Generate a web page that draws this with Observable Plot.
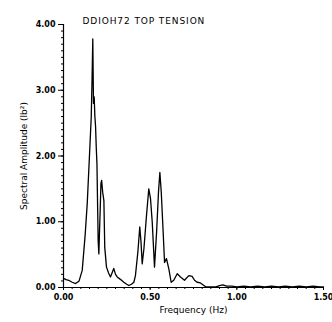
<!DOCTYPE html>
<html>
<head>
<meta charset="utf-8">
<script src="https://cdn.jsdelivr.net/npm/d3@7"></script>
<script src="https://cdn.jsdelivr.net/npm/@observablehq/plot@0.6"></script>
<style>
  html, body { margin: 0; padding: 0; background: #fff; }
  svg { font-family: "DejaVu Sans", sans-serif; }
</style>
</head>
<body>
<div id="chart"></div>
<script>
const title = "DDIOH72 TOP TENSION";
const xLabel = "Frequency (Hz)";
const yLabel = "Spectral Amplitude (lb²)";
const xTicks = [0, 0.5, 1.0, 1.5];
const yTicks = [0, 1, 2, 3, 4];

const freq = [
  0.000, 0.015, 0.030, 0.050, 0.070, 0.090, 0.108, 0.125, 0.137, 0.152,
  0.160, 0.165, 0.169, 0.173, 0.177, 0.181, 0.185, 0.189, 0.193, 0.197,
  0.200, 0.204, 0.208, 0.212, 0.216, 0.220, 0.226, 0.233, 0.238, 0.248,
  0.260, 0.271, 0.280, 0.290, 0.300, 0.310, 0.330, 0.348, 0.365, 0.377,
  0.392, 0.406, 0.415, 0.429, 0.440, 0.447, 0.454, 0.464, 0.479, 0.492,
  0.502, 0.512, 0.525, 0.537, 0.548, 0.556, 0.564, 0.575, 0.583, 0.594,
  0.608, 0.621, 0.636, 0.656, 0.675, 0.698, 0.723, 0.742, 0.756, 0.771,
  0.790, 0.810, 0.820, 0.850, 0.880, 0.900, 0.920, 0.940, 0.970, 1.000,
  1.040, 1.080, 1.120, 1.160, 1.200, 1.240, 1.280, 1.320, 1.360, 1.400,
  1.440, 1.480, 1.500
];
const amp = [
  0.14, 0.12, 0.11, 0.08, 0.06, 0.10, 0.26, 0.80, 1.28, 2.13,
  2.59, 3.20, 3.78, 2.80, 2.90, 2.60, 2.45, 2.13, 1.88, 1.20,
  0.71, 0.51, 0.87, 1.20, 1.58, 1.63, 1.45, 1.32, 0.61, 0.31,
  0.22, 0.16, 0.22, 0.29, 0.20, 0.16, 0.12, 0.08, 0.05, 0.03,
  0.05, 0.08, 0.18, 0.54, 0.92, 0.70, 0.36, 0.59, 1.10, 1.50,
  1.35, 0.99, 0.31, 0.84, 1.45, 1.75, 1.45, 0.84, 0.38, 0.44,
  0.28, 0.08, 0.11, 0.21, 0.16, 0.11, 0.18, 0.17, 0.11, 0.08,
  0.07, 0.03, 0.01, 0.01, 0.01, 0.03, 0.04, 0.02, 0.02, 0.01,
  0.02, 0.01, 0.02, 0.01, 0.02, 0.01, 0.02, 0.01, 0.02, 0.01,
  0.02, 0.01, 0.01
];
const data = freq.map((f, i) => ({f, a: amp[i]}));

const chart = Plot.plot({
  width: 332,
  height: 322,
  marginLeft: 63,
  marginRight: 9,
  marginTop: 24,
  marginBottom: 35,
  style: {fontFamily: "DejaVu Sans, sans-serif", fontSize: "8px", color: "#000", background: "#fff"},
  x: {domain: [0, 1.5]},
  y: {domain: [0, 4]},
  marks: [
    Plot.axisX({ticks: d3.range(0, 1.501, 0.05), tickSize: 2, text: null, label: null}),
    Plot.axisX({ticks: xTicks, tickSize: 3, tickFormat: d3.format(".2f"), tickPadding: 4,
      fontWeight: "bold", label: null}),
    Plot.axisX({ticks: [], label: xLabel, labelAnchor: "center", labelOffset: 25,
      labelArrow: "none", fontSize: 9}),
    Plot.axisY({ticks: d3.range(0, 4.001, 0.1), tickSize: 2, text: null, label: null}),
    Plot.axisY({ticks: yTicks, tickSize: 5, tickFormat: d3.format(".2f"), tickPadding: 3,
      fontWeight: "bold", label: null}),
    Plot.axisY({ticks: [], label: yLabel, labelAnchor: "center", labelOffset: 43,
      labelArrow: "none", fontSize: 9}),
    Plot.ruleX([0], {stroke: "#000", strokeWidth: 1.2}),
    Plot.ruleY([0], {stroke: "#000", strokeWidth: 1.2}),
    Plot.line(data, {x: "f", y: "a", stroke: "#000", strokeWidth: 1.3, strokeLinejoin: "round"}),
    Plot.text([title], {frameAnchor: "top-left", dx: 19, dy: -7, textAnchor: "start",
      fontSize: 9, className: "chart-title"})
  ]
});
d3.select(chart).selectAll(".chart-title text").attr("letter-spacing", "0.9px");
document.getElementById("chart").appendChild(chart);
</script>
</body>
</html>
